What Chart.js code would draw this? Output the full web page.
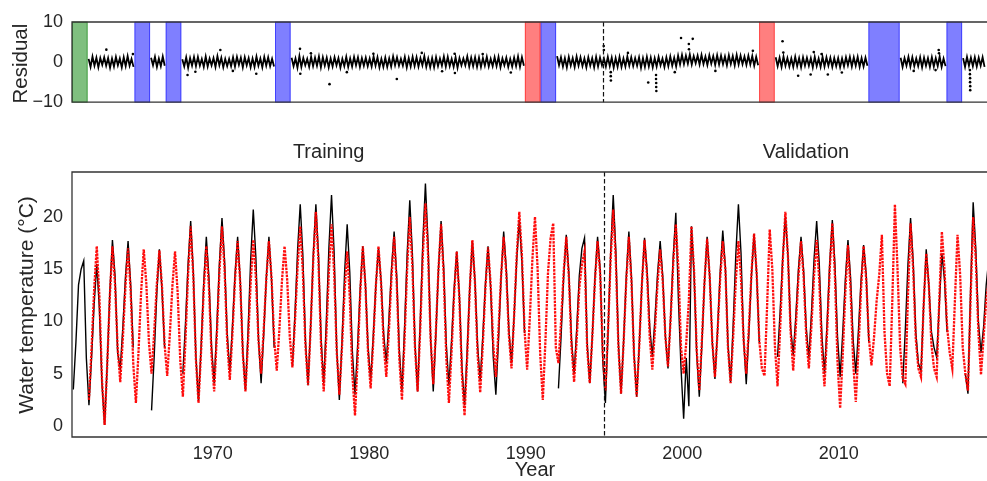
<!DOCTYPE html>
<html>
<head>
<meta charset="utf-8">
<title>Water temperature model</title>
<script src="https://cdn.jsdelivr.net/npm/chart.js@4.4.1/dist/chart.umd.min.js"></script>
<style>
  html, body { margin: 0; padding: 0; background: #fff; overflow: hidden; }
  #figure { position: relative; width: 987px; height: 481px; overflow: hidden; background: #fff; }
  #figure canvas { position: absolute; left: 0; }
  #residualChart { top: 0; }
  #temperatureChart { top: 122px; }
</style>
</head>
<body>
<div id="figure">
  <canvas id="residualChart" width="1000" height="122"></canvas>
  <canvas id="temperatureChart" width="1000" height="359"></canvas>
</div>
<script>
// ---- data ----------------------------------------------------------------
const firstYear = 1961;
const xMin = 1961;
const xMax = 2020.17;
const yearTicks = [1970, 1980, 1990, 2000, 2010];
const temperatureTicks = [0, 5, 10, 15, 20];
const residualTicks = [-10, 0, 10];
const splitYear = 1995;

// where in each year the samples sit (fraction of the year)
const tempSampleOffsets = [1 / 12, 3 / 12, 5 / 12, 7 / 12, 9 / 12, 11 / 12];
const residualSampleOffsets = [1 / 16, 3 / 16, 5 / 16, 7 / 16, 9 / 16, 11 / 16, 13 / 16, 15 / 16];

// measured water temperature, one row per year from 1961 (null = no data)
const observedTemp = [
  [3.5, 8.0, 13.5, 15.0, 15.8, 6.5],   // 1961
  [2.0, 6.5, 11.7, 15.5, 11.2, 4.0],
  [0.1, 5.9, 12.8, 17.8, 14.4, 7.0],
  [5.5, 9.5, 14.3, 17.7, 13.5, 7.5],
  null,                                // 1965
  [1.5, 6.6, 12.6, 16.9, 13.0, 7.5],
  null,                                // 1967
  [5.0, 9.8, 15.5, 19.6, 14.8, 6.7],
  [2.4, 7.6, 13.7, 18.1, 14.2, 7.6],
  [4.1, 9.3, 15.5, 19.9, 15.8, 8.9],   // 1970
  [5.2, 9.5, 14.5, 18.1, 14.0, 7.1],
  [3.4, 9.1, 15.9, 20.7, 16.1, 8.3],
  [4.1, 8.7, 14.2, 18.1, 14.0, 7.5],
  null,                                // 1974
  [5.7, 10.8, 16.9, 21.2, 16.4, 8.2],
  [3.9, 9.6, 16.4, 21.2, 16.4, 8.4],
  [4.1, 10.0, 17.1, 22.1, 16.6, 7.4],
  [2.5, 8.0, 14.6, 19.3, 14.7, 7.1],
  [3.0, 7.7, 13.2, 17.2, 13.6, 7.6],
  [4.4, 8.6, 13.5, 17.0, 13.9, 8.8],   // 1980
  [6.0, 10.2, 15.1, 18.6, 14.3, 7.2],
  [3.4, 9.4, 16.5, 21.6, 16.5, 7.9],
  [3.3, 9.9, 17.6, 23.2, 17.6, 8.3],
  [3.3, 8.7, 15.0, 19.6, 15.2, 7.8],
  [3.9, 8.1, 13.1, 16.7, 12.6, 5.7],
  [2.0, 7.2, 13.3, 17.7, 13.9, 7.7],
  [4.3, 8.6, 13.6, 17.2, 13.2, 6.6],
  [3.0, 8.1, 14.2, 18.6, 15.1, 9.2],
  [6.0, 10.5, 15.9, 19.7, 15.7, 8.9],
  null,                                // 1990
  null,
  [3.6, 8.5, 14.2, 18.3, 14.6, 8.3],
  [5.0, 9.3, 14.4, 17.0, 18.0, 8.0],
  [4.1, 8.7, 14.2, 18.1, 15.0, 6.2],
  [2.2, 8.8, 16.5, 22.1, 16.8, 7.9],
  [3.1, 8.2, 14.3, 18.6, 14.2, 6.8],
  [2.8, 7.8, 13.7, 18.0, 14.8, 9.5],
  [6.6, 10.3, 14.6, 17.7, 14.3, 8.6],
  [5.5, 10.4, 16.2, 20.4, 12.0, 5.5],
  [0.7, 6.5, 1.9, 19.1, 14.5, 6.9],    // 2000
  [2.8, 7.8, 13.8, 18.1, 14.3, 7.9],
  [4.5, 9.2, 14.7, 18.7, 15.2, 7.8],
  [4.2, 9.8, 16.4, 21.2, 16.5, 8.3],
  [4.0, 8.8, 14.4, 18.4, 14.5, 8.0],
  null,                                // 2005
  [6.6, 11.0, 16.2, 20.0, 16.3, 9.5],
  [6.8, 10.5, 15.0, 18.1, 14.9, 9.4],
  [6.5, 10.8, 16.0, 19.6, 15.5, 8.7],
  [5.0, 9.9, 15.6, 19.7, 15.5, 8.5],
  [4.7, 9.0, 14.1, 17.8, 14.2, 8.2],   // 2010
  [5.0, 9.1, 13.9, 17.3, 14.5, 8.0],
  null,
  null,
  [4.1, 9.3, 15.5, 19.9, 15.8, 9.0],
  [6.0, 5.3, 11.5, 16.9, 13.5, 9.0],
  [7.5, 6.6, 11.5, 16.5, 14.0, 9.0],
  null,                                // 2017
  [5.0, 3.1, 13.0, 21.4, 17.0, 10.0],
  [7.0, 9.5, 13.5, 16.0, null, null]   // 2019
];

// modelled water temperature, same layout
const simulatedTemp = [
  null,                                // 1961
  [2.5, 7.4, 13.1, 17.2, 12.4, 4.4],
  [0.1, 5.8, 12.4, 17.2, 13.6, 7.5],
  [4.2, 8.4, 13.4, 17.0, 12.9, 5.9],
  [2.2, 7.1, 12.8, 16.9, 13.6, 8.0],
  [5.0, 8.9, 13.5, 16.8, 13.4, 7.8],
  [4.8, 8.7, 13.4, 16.7, 12.8, 6.3],
  [2.8, 8.2, 14.5, 19.1, 14.4, 6.4],
  [2.2, 7.2, 13.0, 17.2, 13.3, 6.8],
  [3.3, 8.5, 14.7, 19.1, 15.0, 8.1],   // 1970
  [4.4, 8.8, 14.0, 17.7, 13.7, 6.9],
  [3.3, 8.1, 13.7, 17.8, 14.2, 8.2],
  [5.0, 9.2, 14.1, 17.7, 14.2, 8.4],
  [5.3, 9.2, 13.9, 17.2, 14.0, 8.5],
  [5.6, 10.1, 15.3, 19.1, 14.8, 7.7],
  [3.9, 9.4, 15.9, 20.5, 15.7, 7.6],
  [3.3, 8.6, 14.8, 19.3, 14.7, 7.1],
  [3.0, 7.5, 12.9, 16.7, 12.3, 4.9],
  [1.0, 6.3, 12.7, 17.2, 13.4, 7.0],
  [3.6, 8.1, 13.4, 17.2, 13.7, 7.8],   // 1980
  [4.7, 9.1, 14.3, 18.1, 13.7, 6.4],
  [2.5, 8.3, 15.1, 20.0, 15.3, 7.5],
  [3.3, 9.2, 16.3, 21.3, 16.5, 8.3],
  [4.0, 9.0, 15.0, 19.3, 14.5, 6.5],
  [2.2, 7.0, 12.6, 16.7, 12.3, 4.9],
  [1.0, 6.5, 13.1, 17.8, 13.7, 6.9],
  [3.2, 7.8, 13.2, 17.1, 13.6, 7.8],
  [4.7, 9.1, 14.3, 18.1, 14.6, 8.7],
  [5.5, 10.5, 16.3, 20.5, 16.3, 9.2],
  [5.4, 10.2, 15.9, 20.0, 15.1, 6.9],  // 1990
  [2.5, 8.1, 14.7, 18.0, 19.4, 7.5],
  [6.0, 10.0, 14.7, 18.1, 14.2, 7.7],
  [4.2, 8.3, 13.2, 15.5, 16.7, 7.5],
  [4.1, 8.6, 13.9, 17.7, 14.6, 7.0],
  [3.4, 9.1, 15.9, 20.7, 15.8, 7.5],
  [3.1, 8.1, 13.9, 18.1, 13.8, 6.6],
  [2.8, 7.8, 13.6, 17.8, 14.3, 8.5],
  [5.4, 9.2, 13.7, 16.9, 13.8, 8.5],
  [5.7, 10.2, 15.5, 19.3, 15.0, 7.5],
  [5.0, 8.0, 12.0, 19.1, 14.8, 7.3],   // 2000
  [3.4, 8.2, 13.8, 17.9, 14.2, 8.0],
  [4.7, 9.0, 14.1, 17.7, 15.0, 7.5],
  [4.1, 8.6, 13.9, 17.7, 14.1, 8.2],
  [5.0, 9.4, 14.6, 18.4, 14.6, 8.2],
  [5.5, 4.8, 11.5, 18.8, 15.0, 7.6],
  [3.8, 9.3, 15.8, 20.5, 16.2, 9.1],
  [5.3, 9.4, 14.2, 17.7, 14.3, 8.6],
  [5.5, 9.6, 14.4, 17.8, 13.9, 7.3],
  [3.8, 9.0, 15.0, 19.4, 14.4, 6.1],
  [1.7, 6.8, 12.9, 17.3, 13.1, 6.1],   // 2010
  [2.3, 7.2, 13.0, 17.2, 14.0, 8.5],
  [5.8, 8.5, 12.0, 14.5, 18.3, 9.0],
  [5.0, 3.8, 12.0, 21.2, 15.0, 7.5],
  [4.5, 4.0, 12.5, 19.4, 15.0, 8.3],
  [5.5, 4.7, 11.5, 16.5, 13.5, 7.8],
  [5.5, 4.7, 12.0, 18.6, 15.0, 9.5],
  [7.0, 5.5, 12.0, 18.3, 14.5, 7.5],
  [5.0, 3.4, 12.0, 20.0, 16.0, 9.0],
  [4.9, 8.5, 12.0, 14.0, null, null]   // 2019
];

// residual (observed - modelled), eight samples per year
const residualBand = [
  null,                                         // 1961
  [0.8, -1.2, 1.4, -0.9, 1.1, -1.3, 1.0, -0.7],
  [1.2, -0.9, 1.0, -1.4, 0.9, -1.1, 1.3, -0.8],
  [0.9, -1.3, 1.2, -1.0, 1.5, -0.9, 0.8, -1.2],
  null,                                         // 1965
  [1.1, -0.8, 1.3, -1.2, 0.9, -1.0, 1.4, -0.9],
  null,                                         // 1967
  [0.7, -1.1, 1.2, -1.4, 1.0, -0.9, 1.3, -1.0],
  [1.3, -0.9, 0.8, -1.2, 1.4, -1.1, 0.9, -0.8],
  [1.0, -1.2, 1.5, -0.8, 1.1, -1.3, 0.8, -1.0], // 1970
  [0.8, -1.0, 1.2, -1.1, 1.3, -0.7, 1.1, -1.3],
  [1.2, -0.8, 1.0, -1.3, 0.9, -1.2, 1.4, -0.9],
  [0.9, -1.3, 1.3, -0.9, 1.2, -1.0, 0.8, -1.1],
  null,                                         // 1974
  [1.1, -1.0, 0.9, -1.4, 1.5, -1.2, 1.0, -0.8],
  [0.8, -1.2, 1.3, -1.0, 1.1, -0.9, 1.4, -1.3],
  [1.2, -0.9, 1.1, -1.3, 0.9, -1.1, 1.2, -0.8],
  [1.0, -1.4, 0.8, -1.0, 1.3, -1.2, 0.9, -1.1],
  [1.3, -0.8, 1.2, -1.2, 1.0, -0.9, 1.1, -1.0],
  [0.9, -1.1, 1.4, -0.9, 1.2, -1.3, 0.8, -1.2], // 1980
  [1.1, -1.2, 0.9, -1.1, 1.4, -0.8, 1.2, -0.9],
  [0.8, -0.9, 1.3, -1.3, 1.0, -1.1, 1.3, -1.0],
  [1.2, -1.1, 1.0, -0.8, 1.5, -1.2, 0.9, -1.3],
  [1.0, -1.3, 1.2, -1.0, 0.9, -0.9, 1.4, -1.1],
  [1.3, -1.0, 0.8, -1.2, 1.2, -1.4, 1.0, -0.8],
  [0.9, -0.8, 1.4, -1.1, 1.1, -1.0, 1.2, -1.2],
  [1.1, -1.2, 1.0, -0.9, 1.3, -1.1, 0.8, -1.0],
  [1.2, -1.0, 1.3, -1.3, 0.9, -0.8, 1.1, -1.2],
  [0.8, -1.1, 1.1, -1.0, 1.4, -1.2, 1.2, -0.9],
  null,                                         // 1990
  null,
  [1.5, -0.8, 1.2, -1.1, 1.0, -1.3, 1.3, -0.9],
  [1.0, -1.2, 1.4, -0.9, 1.2, -1.0, 0.9, -1.3],
  [1.2, -0.9, 1.0, -1.3, 1.3, -1.1, 1.1, -0.8],
  [0.9, -1.1, 1.3, -1.0, 1.1, -1.4, 1.0, -1.2],
  [1.3, -1.2, 0.9, -1.1, 1.4, -0.9, 1.2, -1.0],
  [1.0, -0.9, 1.2, -1.4, 1.0, -1.2, 1.3, -1.1],
  [1.1, -1.3, 1.0, -1.1, 1.3, -0.8, 0.9, -1.2],
  [1.2, -1.0, 1.4, -0.9, 1.1, -1.1, 1.6, -0.6],
  [1.8, -0.5, 1.6, -0.4, 1.9, -0.6, 1.5, -0.3], // 2000
  [1.6, -0.6, 1.8, -0.5, 1.4, -0.7, 1.7, -0.4],
  [1.5, -0.7, 1.7, -0.6, 1.6, -0.5, 1.4, -0.8],
  [1.7, -0.5, 1.5, -0.8, 1.8, -0.6, 1.6, -0.5],
  [1.4, -0.7, 1.6, -0.6, 1.5, -0.9, 1.3, -0.8],
  null,                                         // 2005
  [1.2, -1.0, 1.1, -1.2, 1.4, -0.9, 1.0, -1.1],
  [0.9, -1.2, 1.3, -1.0, 1.0, -1.3, 1.2, -0.9],
  [1.1, -0.9, 1.0, -1.3, 1.3, -1.0, 0.9, -1.2],
  [1.3, -1.1, 1.2, -0.9, 1.1, -1.2, 1.0, -1.0],
  [1.0, -1.3, 0.9, -1.1, 1.2, -0.8, 1.3, -1.1], // 2010
  [1.2, -0.9, 1.3, -1.2, 1.0, -1.1, 1.1, -0.9],
  null,
  null,
  [1.1, -1.2, 1.0, -0.9, 1.3, -1.1, 1.2, -1.0],
  [0.9, -1.0, 1.2, -1.3, 1.1, -0.9, 1.0, -1.2],
  [1.2, -1.1, 1.0, -1.0, 1.4, -1.2, 0.9, -1.0],
  null,                                         // 2017
  [1.0, -1.2, 1.3, -0.9, 1.1, -1.0, 1.2, -1.1],
  [1.1, -0.9, 1.2, -1.2, null, null, null, null] // 2019
];

// isolated large residuals
const residualOutlierYears = [
  1963.2, 1964.9, 1968.4, 1968.9, 1970.5, 1971.3, 1972.8, 1975.6, 1975.62, 1976.3,
  1977.49, 1978.6, 1980.3, 1981.8, 1983.4, 1984.7, 1985.5, 1985.52, 1987.3, 1989.1,
  1995.05, 1995.06, 1995.5, 1995.5, 1995.51, 1996.6, 1997.9,
  1998.4, 1998.4, 1998.41, 1998.41, 1998.42,
  1999.6, 2000.0, 2000.5, 2000.51, 2000.75, 2002.2, 2004.6,
  2006.5, 2006.55, 2007.5, 2008.3, 2008.5, 2009.0, 2009.4, 2010.3,
  2014.9, 2016.3, 2016.5, 2016.52,
  2018.5, 2018.5, 2018.51, 2018.51, 2018.52, 2018.52
];
const residualOutlierValues = [
  3.1, 2.0, -3.2, -2.4, 3.0, -2.2, -2.9, 3.3, -2.9, 2.2,
  -5.5, -2.5, 2.1, -4.2, 2.3, -2.3, 2.1, -2.7, 2.0, -2.6,
  4.0, 3.0, -2.5, -3.5, -4.6, 2.3, -5.1,
  -3.2, -4.2, -5.2, -6.2, -7.2,
  -2.5, 6.0, 4.5, 3.2, 5.8, -2.2, 2.8,
  5.2, 2.4, -3.4, -3.1, 2.5, 2.0, -3.1, -2.6,
  -2.2, -2.0, 3.0, 2.2,
  -2.0, -3.0, -4.0, -5.0, -6.0, -7.0
];

// shaded periods in the residual panel
const warmupSpans = [[1961, 1962]];
const missingObsSpans = [[1965, 1966], [1967, 1968], [1974, 1975], [1991, 1992], [2012, 2014], [2017, 2018]];
const excludedSpans = [[1990, 1991], [2005, 2006]];

// ---- helpers -------------------------------------------------------------
const fontFamily = "'Liberation Sans', Arial, Helvetica, sans-serif";
const textColor = '#262626';
const spineColor = '#333333';

function toSeries(rows, offsets) {
  const points = [];
  rows.forEach((row, i) => {
    const year = firstYear + i;
    if (!row) {
      points.push({ x: year + 0.5, y: null });
      return;
    }
    row.forEach((v, j) => points.push({ x: year + offsets[j], y: v }));
  });
  return points;
}

const outlierPoints = residualOutlierYears.map((yr, i) => ({ x: yr, y: residualOutlierValues[i] }));

function fixedTicks(values) {
  return scale => { scale.ticks = values.map(v => ({ value: v })); };
}

function tickLabel(v) {
  return v < 0 ? '\u2212' + Math.abs(v) : String(v);
}

// shaded year ranges behind the residuals
const spanPlugin = {
  id: 'spans',
  beforeDatasetsDraw(chart, args, opts) {
    const { ctx, chartArea } = chart;
    const x = chart.scales.x;
    ctx.save();
    opts.groups.forEach(group => {
      group.spans.forEach(([a, b]) => {
        const x0 = x.getPixelForValue(a);
        const x1 = x.getPixelForValue(b);
        ctx.fillStyle = group.color;
        ctx.fillRect(x0, chartArea.top, x1 - x0, chartArea.bottom - chartArea.top);
        ctx.strokeStyle = group.color;
        ctx.lineWidth = 1;
        ctx.strokeRect(x0 + 0.5, chartArea.top, x1 - x0 - 1, chartArea.bottom - chartArea.top);
      });
    });
    ctx.restore();
  }
};

// axes frame and the training / validation split line
const framePlugin = {
  id: 'frame',
  afterDatasetsDraw(chart) {
    const { ctx, chartArea } = chart;
    const sx = chart.scales.x.getPixelForValue(splitYear);
    ctx.save();
    ctx.strokeStyle = '#111';
    ctx.lineWidth = 1.2;
    ctx.setLineDash([4.5, 2.5]);
    ctx.beginPath();
    ctx.moveTo(Math.round(sx) + 0.5, chartArea.top);
    ctx.lineTo(Math.round(sx) + 0.5, chartArea.bottom);
    ctx.stroke();
    ctx.setLineDash([]);
    ctx.strokeStyle = spineColor;
    ctx.lineWidth = 1.3;
    ctx.beginPath();
    ctx.moveTo(chartArea.right, chartArea.top);
    ctx.lineTo(chartArea.left, chartArea.top);
    ctx.lineTo(chartArea.left, chartArea.bottom);
    ctx.lineTo(chartArea.right, chartArea.bottom);
    ctx.stroke();
    ctx.restore();
  }
};

// axis titles and panel captions
const textPlugin = {
  id: 'texts',
  afterDraw(chart, args, opts) {
    const { ctx, chartArea } = chart;
    const x = chart.scales.x;
    ctx.save();
    ctx.fillStyle = textColor;
    if (opts.yTitle) {
      ctx.save();
      ctx.font = opts.yTitleSize + 'px ' + fontFamily;
      ctx.translate(opts.yTitleX, (chartArea.top + chartArea.bottom) / 2 + opts.yTitleShift);
      ctx.rotate(-Math.PI / 2);
      ctx.textAlign = 'center';
      ctx.textBaseline = 'alphabetic';
      ctx.fillText(opts.yTitle, 0, 0);
      ctx.restore();
    }
    ctx.font = '20px ' + fontFamily;
    ctx.textAlign = 'center';
    ctx.textBaseline = 'middle';
    (opts.captions || []).forEach(c => {
      ctx.fillText(c.text, x.getPixelForValue(c.year), c.y);
    });
    if (opts.xTitle) {
      ctx.fillText(opts.xTitle, (chartArea.left + chartArea.right) / 2, opts.xTitleY);
    }
    ctx.restore();
  }
};

const tickFont = { family: fontFamily, size: 18 };

// ---- residual panel ------------------------------------------------------
new Chart(document.getElementById('residualChart'), {
  type: 'line',
  data: {
    datasets: [
      {
        label: 'Residual outliers',
        type: 'scatter',
        data: outlierPoints,
        backgroundColor: '#000',
        borderWidth: 0,
        pointRadius: 1.3,
        order: 0
      },
      {
        label: 'Residual',
        data: toSeries(residualBand, residualSampleOffsets),
        borderColor: '#000',
        borderWidth: 1.8,
        pointRadius: 0,
        spanGaps: false,
        order: 1
      }
    ]
  },
  options: {
    responsive: false,
    animation: false,
    events: [],
    layout: { padding: { left: 0, right: 2, top: 22, bottom: 13 } },
    plugins: {
      legend: { display: false },
      tooltip: { enabled: false },
      spans: {
        groups: [
          { spans: warmupSpans, color: 'rgba(0, 128, 0, 0.5)' },
          { spans: missingObsSpans, color: 'rgba(0, 0, 255, 0.5)' },
          { spans: excludedSpans, color: 'rgba(255, 0, 0, 0.5)' }
        ]
      },
      texts: { yTitle: 'Residual', yTitleX: 27, yTitleSize: 20.5, yTitleShift: 1.5 }
    },
    scales: {
      x: { type: 'linear', min: xMin, max: xMax, display: false },
      y: {
        min: -10,
        max: 10,
        afterBuildTicks: fixedTicks(residualTicks),
        afterFit: s => { s.width = 72; },
        grid: { display: false, drawTicks: false },
        border: { display: false },
        ticks: { font: tickFont, color: textColor, padding: 9, callback: tickLabel }
      }
    }
  },
  plugins: [spanPlugin, framePlugin, textPlugin]
});

// ---- temperature panel ---------------------------------------------------
new Chart(document.getElementById('temperatureChart'), {
  type: 'line',
  data: {
    datasets: [
      {
        label: 'Modelled',
        data: toSeries(simulatedTemp, tempSampleOffsets),
        borderColor: 'rgba(255, 0, 0, 0.95)',
        borderWidth: 2.3,
        borderDash: [2.5, 1],
        pointRadius: 0,
        spanGaps: false,
        order: 0
      },
      {
        label: 'Observed',
        data: toSeries(observedTemp, tempSampleOffsets),
        borderColor: '#000',
        borderWidth: 1.4,
        pointRadius: 0,
        spanGaps: false,
        order: 1
      }
    ]
  },
  options: {
    responsive: false,
    animation: false,
    events: [],
    layout: { padding: { left: 0, right: 2, top: 50, bottom: 0 } },
    plugins: {
      legend: { display: false },
      tooltip: { enabled: false },
      texts: {
        yTitle: 'Water temperature (\u00B0C)',
        yTitleX: 32.5,
        yTitleSize: 21,
        yTitleShift: 0.5,
        captions: [
          { text: 'Training', year: 1977.4, y: 30 },
          { text: 'Validation', year: 2007.9, y: 30 }
        ],
        xTitle: 'Year',
        xTitleY: 348
      }
    },
    scales: {
      x: {
        type: 'linear',
        min: xMin,
        max: xMax,
        afterBuildTicks: fixedTicks(yearTicks),
        afterFit: s => { s.height = 44; },
        grid: { display: false, drawTicks: false },
        border: { display: false },
        ticks: { font: tickFont, color: textColor, padding: 6, maxRotation: 0, callback: v => String(v) }
      },
      y: {
        min: -1.05,
        max: 24.3,
        afterBuildTicks: fixedTicks(temperatureTicks),
        afterFit: s => { s.width = 72; },
        grid: { display: false, drawTicks: false },
        border: { display: false },
        ticks: { font: tickFont, color: textColor, padding: 9, callback: tickLabel }
      }
    }
  },
  plugins: [framePlugin, textPlugin]
});
</script>
</body>
</html>
